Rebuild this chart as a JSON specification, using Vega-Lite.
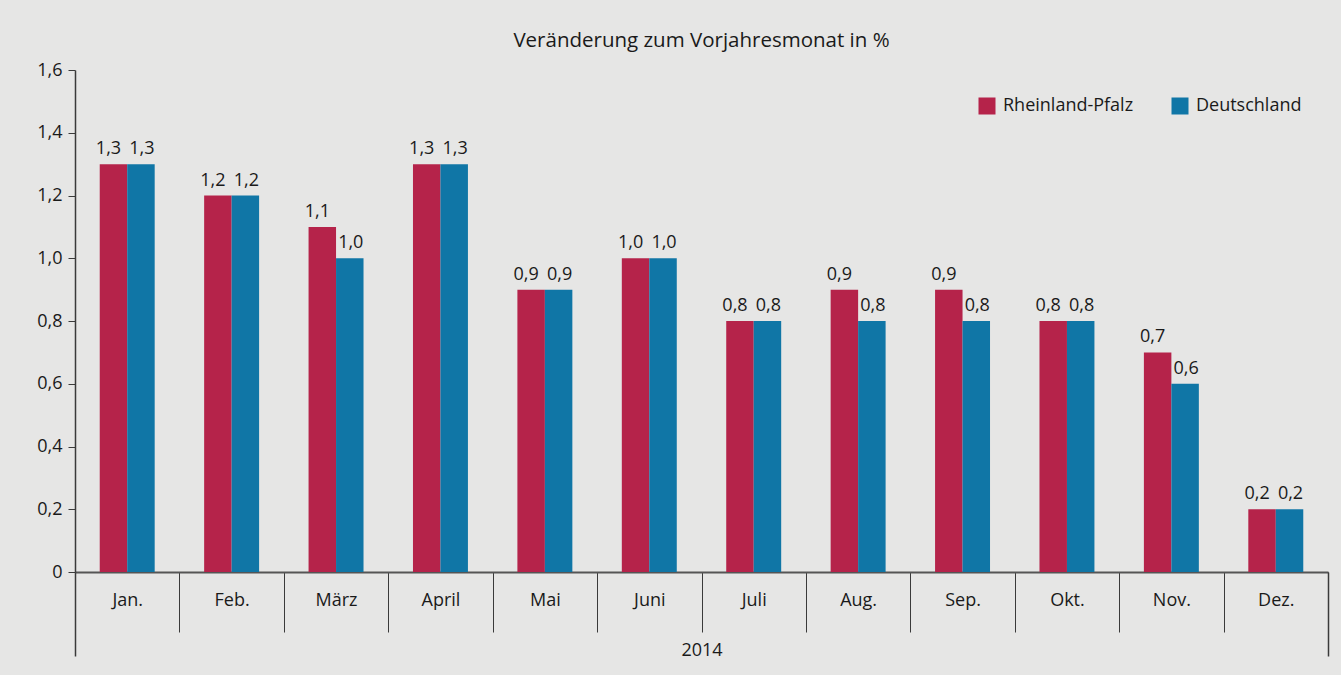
{
  "$schema": "https://vega.github.io/schema/vega-lite/v6.json",
  "autosize": {"type": "none"},
  "width": 1253,
  "height": 502,
  "padding": {"left": 75, "top": 70, "right": 13, "bottom": 103},
  "background": "#e6e6e5",
  "title": {"text": "Veränderung zum Vorjahresmonat in %", "fontSize": 20.5, "fontWeight": "normal", "color": "#1a1a1a", "anchor": "middle", "offset": 10, "font": "Open Sans"},
  "config": {
    "font": "Open Sans",
    "view": {"stroke": null},
    "locale": {"number": {"decimal": ",", "thousands": ".", "grouping": [3], "currency": ["", " €"]}}
  },
  "layer": [
    {
      "data": {"values": [
        {"monat": "Jan.", "reihe": "Rheinland-Pfalz", "wert": 1.3},
        {"monat": "Jan.", "reihe": "Deutschland", "wert": 1.3},
        {"monat": "Feb.", "reihe": "Rheinland-Pfalz", "wert": 1.2},
        {"monat": "Feb.", "reihe": "Deutschland", "wert": 1.2},
        {"monat": "März", "reihe": "Rheinland-Pfalz", "wert": 1.1},
        {"monat": "März", "reihe": "Deutschland", "wert": 1.0},
        {"monat": "April", "reihe": "Rheinland-Pfalz", "wert": 1.3},
        {"monat": "April", "reihe": "Deutschland", "wert": 1.3},
        {"monat": "Mai", "reihe": "Rheinland-Pfalz", "wert": 0.9},
        {"monat": "Mai", "reihe": "Deutschland", "wert": 0.9},
        {"monat": "Juni", "reihe": "Rheinland-Pfalz", "wert": 1.0},
        {"monat": "Juni", "reihe": "Deutschland", "wert": 1.0},
        {"monat": "Juli", "reihe": "Rheinland-Pfalz", "wert": 0.8},
        {"monat": "Juli", "reihe": "Deutschland", "wert": 0.8},
        {"monat": "Aug.", "reihe": "Rheinland-Pfalz", "wert": 0.9},
        {"monat": "Aug.", "reihe": "Deutschland", "wert": 0.8},
        {"monat": "Sep.", "reihe": "Rheinland-Pfalz", "wert": 0.9},
        {"monat": "Sep.", "reihe": "Deutschland", "wert": 0.8},
        {"monat": "Okt.", "reihe": "Rheinland-Pfalz", "wert": 0.8},
        {"monat": "Okt.", "reihe": "Deutschland", "wert": 0.8},
        {"monat": "Nov.", "reihe": "Rheinland-Pfalz", "wert": 0.7},
        {"monat": "Nov.", "reihe": "Deutschland", "wert": 0.6},
        {"monat": "Dez.", "reihe": "Rheinland-Pfalz", "wert": 0.2},
        {"monat": "Dez.", "reihe": "Deutschland", "wert": 0.2}
      ]},
      "encoding": {
        "x": {
          "field": "monat", "type": "nominal", "sort": null,
          "scale": {"paddingInner": 0, "paddingOuter": 0},
          "axis": {
            "title": null, "orient": "bottom", "labelAngle": 0, "tickBand": "extent",
            "tickSize": 60, "labelPadding": -41, "labelFontSize": 18, "labelColor": "#1a1a1a",
            "tickColor": "#3a3a3a", "tickWidth": 1, "domainColor": "#555555", "domainWidth": 2
          }
        },
        "xOffset": {"field": "reihe", "type": "nominal", "sort": ["Rheinland-Pfalz", "Deutschland"], "scale": {"paddingInner": 0, "paddingOuter": 0.9}},
        "y": {
          "field": "wert", "type": "quantitative",
          "scale": {"domain": [0, 1.6], "nice": false},
          "axis": {
            "title": null, "values": [0, 0.2, 0.4, 0.6, 0.8, 1.0, 1.2, 1.4, 1.6], "grid": false,
            "labelExpr": "datum.value == 0 ? '0' : replace(format(datum.value, '.1f'), '.', ',')",
            "labelFontSize": 18, "labelColor": "#1a1a1a", "tickSize": 7, "labelPadding": 6,
            "tickColor": "#3a3a3a", "domainColor": "#3a3a3a", "domainWidth": 1.5
          }
        }
      },
      "layer": [
        {
          "mark": {"type": "bar"},
          "encoding": {
            "color": {
              "field": "reihe", "type": "nominal",
              "scale": {"domain": ["Rheinland-Pfalz", "Deutschland"], "range": ["#b5234a", "#1076a6"]},
              "legend": {
                "title": null, "orient": "none", "direction": "horizontal", "legendX": 903, "legendY": 27,
                "symbolType": "square", "symbolSize": 289, "symbolStrokeWidth": 0, "symbolOpacity": 1,
                "labelFontSize": 18, "labelColor": "#1a1a1a", "labelOffset": 7, "columnPadding": 37
              }
            }
          }
        },
        {
          "transform": [{"filter": "datum.reihe == 'Rheinland-Pfalz'"}],
          "mark": {"type": "text", "baseline": "alphabetic", "dy": -10, "dx": -5, "fontSize": 18, "color": "#1a1a1a"},
          "encoding": {
            "text": {"field": "wert", "type": "quantitative", "format": ".1f"}
          }
        },
        {
          "transform": [{"filter": "datum.reihe == 'Deutschland'"}],
          "mark": {"type": "text", "baseline": "alphabetic", "dy": -10, "dx": 1, "fontSize": 18, "color": "#1a1a1a"},
          "encoding": {
            "text": {"field": "wert", "type": "quantitative", "format": ".1f"}
          }
        }
      ]
    },
    {
      "data": {"values": [{"jahr": "2014", "null": 0}]},
      "mark": {"type": "bar", "opacity": 0},
      "encoding": {
        "x": {
          "field": "jahr", "type": "nominal",
          "scale": {"paddingInner": 0, "paddingOuter": 0},
          "axis": {
            "title": null, "orient": "bottom", "labelAngle": 0, "tickBand": "extent", "domain": false,
            "tickSize": 84, "labelPadding": -15, "labelFontSize": 18, "labelColor": "#1a1a1a",
            "tickColor": "#3a3a3a", "tickWidth": 1.5
          }
        },
        "y": {"field": "null", "type": "quantitative"}
      }
    }
  ],
  "resolve": {"scale": {"x": "independent"}, "axis": {"x": "independent"}}
}
